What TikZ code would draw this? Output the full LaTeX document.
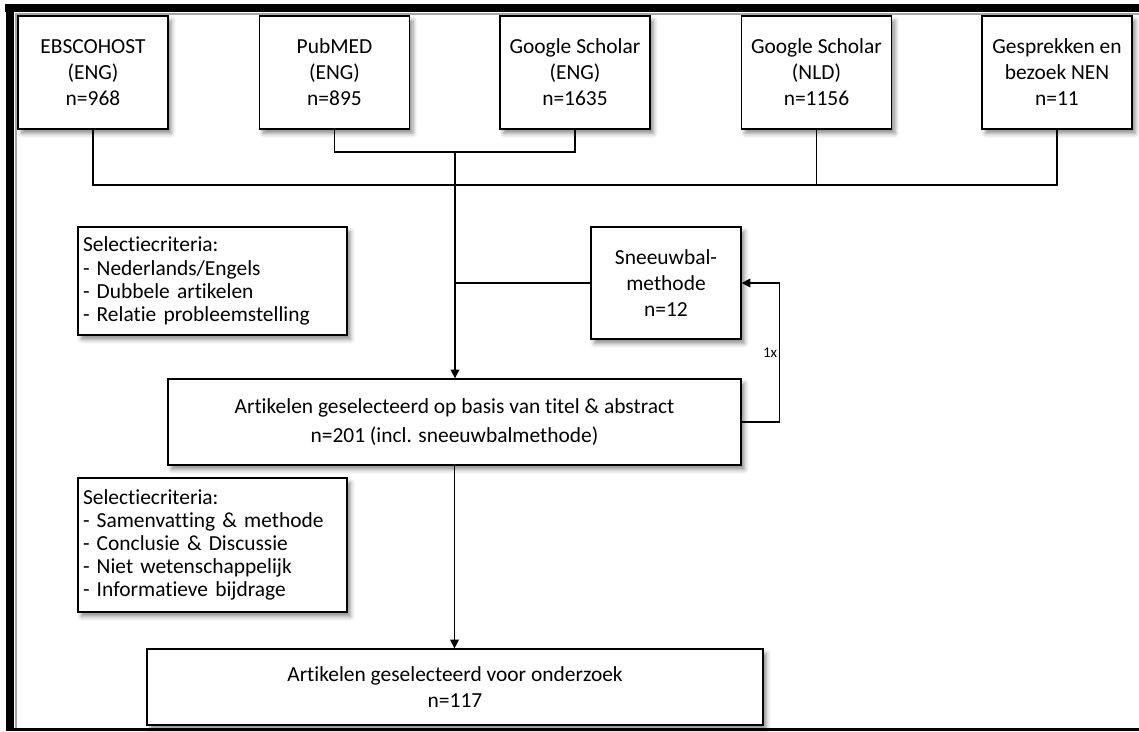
\documentclass[tikz,border=0pt]{standalone}
\usepackage{fontspec}
\setmainfont{Carlito}[Ligatures=NoCommon]
\usetikzlibrary{positioning,calc,arrows.meta,shadows.blur}

\tikzset{
  schaduw/.style={blur shadow={shadow xshift=2pt, shadow yshift=-2.5pt, shadow blur radius=2.5pt, shadow opacity=45}},
  blok/.style={draw, fill=white, schaduw, align=center, inner sep=0pt, font=\fontsize{12.2}{14.8}\selectfont},
  bron/.style={blok, minimum width=3cm, minimum height=2.26cm},
  criteria/.style={blok, align=left, inner xsep=0.1cm, text width=5.18cm, minimum height=#1, font=\fontsize{12.2}{13.2}\selectfont},
  pijl/.style={-{Triangle[length=5pt,width=5pt]}}
}

\begin{document}
\begin{tikzpicture}[x=0.02cm, y=-0.02cm, line width=0.75pt]
		\useasboundingbox (0,0) rectangle (1139,731);
		% kader
		\fill (5,4) rectangle (1139,12);
		\fill (6,4) rectangle (14,731);
		\fill (6,728) rectangle (1139,731);
		\draw[gray!70, line width=1.2pt] (16,728) -- (16,14) -- (1139,14);
		% bronnen
		\node[bron] (Ebsco) at (93,72.5) {EBSCOHOST\\(ENG)\\n=968};
		\node[bron] (Pubmed) at (334.5,72.5) {PubMED\\(ENG)\\n=895};
		\node[bron] (GsEng) at (575,72.5) {Google Scholar\\(ENG)\\n=1635};
		\node[bron] (GsNld) at (816.5,72.5) {Google Scholar\\(NLD)\\n=1156};
		\node[bron] (Gespr) at (1057,72.5) {Gesprekken en\\bezoek NEN\\n=11};
		% selectie
		\node[bron, minimum height=2.24cm] (Sneeuw) at (666,283) {Sneeuwbal-\\methode\\n=12};
		\node[criteria=2.16cm] (SelTitel) at (212.5,281) {Selectiecriteria:\\- Nederlands/Engels\\- Dubbele artikelen\\- Relatie probleemstelling};
		\node[blok, minimum width=11.46cm, minimum height=1.72cm, font=\fontsize{12.2}{16}\selectfont] (Titel) at (454.5,422) {Artikelen geselecteerd op basis van titel \& abstract\\n=201 (incl. sneeuwbalmethode)};
		\node[criteria=2.68cm] (SelOnd) at (212.5,545) {Selectiecriteria:\\- Samenvatting \& methode\\- Conclusie \& Discussie\\- Niet wetenschappelijk\\- Informatieve bijdrage};
		\node[blok, minimum width=12.32cm, minimum height=1.52cm] (Onderzoek) at (455,687) {Artikelen geselecteerd voor onderzoek\\n=117};
		% verbindingen
		\coordinate (busOnder) at (455,185);
		\coordinate (busBoven) at (455,152);
		\draw (Ebsco.south) |- (busOnder) -| (Gespr.south);
		\draw (GsNld.south) -- (GsNld.south |- busOnder);
		\draw (Pubmed.south) |- (busBoven) -| (GsEng.south);
		\draw[pijl] (busBoven) -- (busBoven |- Titel.north);
		\draw (Sneeuw.west) -- (Sneeuw.west -| busBoven);
		\draw[pijl] (Titel.east) -- ++(38,0) |- (Sneeuw.east) node[pos=0.25, left=0pt, fill=white, inner sep=1pt, font=\fontsize{8.5}{9}\selectfont] {1x};
		\draw[pijl] (Titel.south) -- (Titel.south |- Onderzoek.north);
	\end{tikzpicture}
\end{document}
